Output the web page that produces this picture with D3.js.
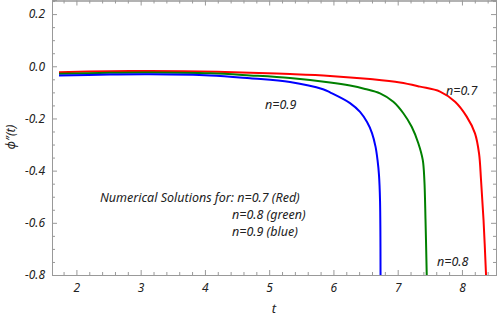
<!DOCTYPE html>
<html>
<head>
<meta charset="utf-8">
<script src="https://cdn.jsdelivr.net/npm/d3@7"></script>
<style>
  body { margin: 0; background: #fff; }
  text { font-family: "Noto Sans", sans-serif; font-style: italic; }
</style>
</head>
<body>
<script>
// t values and phi''(t) values, one array per series
const tRed   = [1.729, 2.523, 3.145, 3.923, 4.702, 5.324, 5.947, 6.569, 7.036, 7.348, 7.659, 7.893, 8.074, 8.203, 8.266, 8.297, 8.336, 8.375];
const phiRed = [-0.023, -0.019, -0.018, -0.020, -0.025, -0.030, -0.037, -0.049, -0.062, -0.078, -0.097, -0.136, -0.193, -0.257, -0.334, -0.436, -0.589, -0.8];

const tGreen   = [1.729, 2.523, 3.145, 4.079, 4.702, 5.324, 5.947, 6.258, 6.492, 6.725, 6.932, 7.088, 7.218, 7.321, 7.390, 7.415, 7.433, 7.452];
const phiGreen = [-0.029, -0.025, -0.024, -0.027, -0.035, -0.045, -0.062, -0.074, -0.087, -0.104, -0.136, -0.180, -0.232, -0.295, -0.359, -0.436, -0.589, -0.8];

const tBlue   = [1.729, 2.523, 3.145, 4.079, 4.702, 5.324, 5.838, 5.947, 6.258, 6.414, 6.523, 6.600, 6.655, 6.686, 6.709, 6.725, 6.733];
const phiBlue = [-0.035, -0.032, -0.031, -0.035, -0.046, -0.060, -0.088, -0.100, -0.141, -0.175, -0.214, -0.256, -0.308, -0.359, -0.417, -0.513, -0.8];

const seriesNames  = ["n=0.7", "n=0.8", "n=0.9"];
const seriesColors = ["#ff0000", "#008000", "#0000ff"];

const xTicks = [2, 3, 4, 5, 6, 7, 8];
const yTicks = [0.2, 0.0, -0.2, -0.4, -0.6, -0.8];

const width = 497;
const height = 317;

const x = d3.scaleLinear().domain([1.62, 8.53]).range([52, 496]);
const y = d3.scaleLinear().domain([-0.8, 0.254]).range([275, 0]);

const svg = d3.select("body").append("svg")
  .attr("width", width)
  .attr("height", height);

const frameColor = "#999";
const fmt = d => d3.format(".1f")(d).replace("-", "\u2212");

// minor ticks
const xMinor = d3.range(1.8, 8.5, 0.2).filter(v => Math.abs(v - Math.round(v)) > 0.01);
const yMinor = d3.range(-0.75, 0.26, 0.05).filter(v => Math.abs(v * 5 - Math.round(v * 5)) > 0.01);

function styleAxis(g) {
  g.select(".domain").attr("stroke", frameColor);
  g.selectAll(".tick line").attr("stroke", frameColor);
  g.selectAll("text").attr("fill", "#222").attr("font-size", "12px")
    .attr("font-family", "Noto Sans, sans-serif").attr("font-style", "italic");
}

// bottom
svg.append("g").attr("transform", "translate(0,275)")
  .call(d3.axisBottom(x).tickValues(xTicks).tickSize(-5).tickPadding(8).tickFormat(d3.format("d")))
  .call(styleAxis);
svg.append("g").attr("transform", "translate(0,275)")
  .call(d3.axisBottom(x).tickValues(xMinor).tickSize(-3).tickFormat(""))
  .call(styleAxis);
// top
svg.append("g").attr("transform", "translate(0,0.5)")
  .call(d3.axisTop(x).tickValues(xTicks).tickSize(-5).tickFormat(""))
  .call(styleAxis);
svg.append("g").attr("transform", "translate(0,0.5)")
  .call(d3.axisTop(x).tickValues(xMinor).tickSize(-3).tickFormat(""))
  .call(styleAxis);
// left
svg.append("g").attr("transform", "translate(52,0)")
  .call(d3.axisLeft(y).tickValues(yTicks).tickSize(-5).tickPadding(7).tickFormat(fmt))
  .call(styleAxis);
svg.append("g").attr("transform", "translate(52,0)")
  .call(d3.axisLeft(y).tickValues(yMinor).tickSize(-3).tickFormat(""))
  .call(styleAxis);
// right
svg.append("g").attr("transform", "translate(496,0)")
  .call(d3.axisRight(y).tickValues(yTicks).tickSize(-5).tickFormat(""))
  .call(styleAxis);
svg.append("g").attr("transform", "translate(496,0)")
  .call(d3.axisRight(y).tickValues(yMinor).tickSize(-3).tickFormat(""))
  .call(styleAxis);

// curves
const series = [
  { name: seriesNames[0], color: seriesColors[0], t: tRed, v: phiRed },
  { name: seriesNames[1], color: seriesColors[1], t: tGreen, v: phiGreen },
  { name: seriesNames[2], color: seriesColors[2], t: tBlue, v: phiBlue }
];

const line = d3.line()
  .x(d => x(d[0]))
  .y(d => y(d[1]))
  .curve(d3.curveCatmullRom.alpha(0.5));

svg.append("defs").append("clipPath").attr("id", "plot")
  .append("rect").attr("x", 52).attr("y", 0).attr("width", 444).attr("height", 275);

svg.append("g").attr("clip-path", "url(#plot)")
  .selectAll("path")
  .data(series)
  .enter()
    .append("path")
    .attr("d", d => line(d.t.map((t, i) => [t, d.v[i]])))
    .attr("fill", "none")
    .attr("stroke", d => d.color)
    .attr("stroke-width", 2);

// labels
svg.append("text").attr("x", 274).attr("y", 313).attr("text-anchor", "middle")
  .attr("font-size", "13px").attr("fill", "#222").text("t");

svg.append("text")
  .attr("transform", "translate(15,137) rotate(-90)")
  .attr("text-anchor", "middle").attr("font-size", "12.5px").attr("fill", "#222")
  .text("\u03d5\u2033(t)");

const notes = [
  { text: "n=0.9", x: 265, y: 109 },
  { text: "n=0.7", x: 446, y: 95 },
  { text: "n=0.8", x: 437, y: 266 },
  { text: "Numerical Solutions for: n=0.7 (Red)", x: 100, y: 202 },
  { text: "n=0.8 (green)", x: 232, y: 219 },
  { text: "n=0.9 (blue)", x: 232, y: 236 }
];

svg.selectAll("text.note")
  .data(notes)
  .enter()
    .append("text")
    .attr("class", "note")
    .attr("x", d => d.x)
    .attr("y", d => d.y)
    .attr("font-size", "12.5px")
    .attr("fill", "#222")
    .text(d => d.text);
</script>
</body>
</html>
